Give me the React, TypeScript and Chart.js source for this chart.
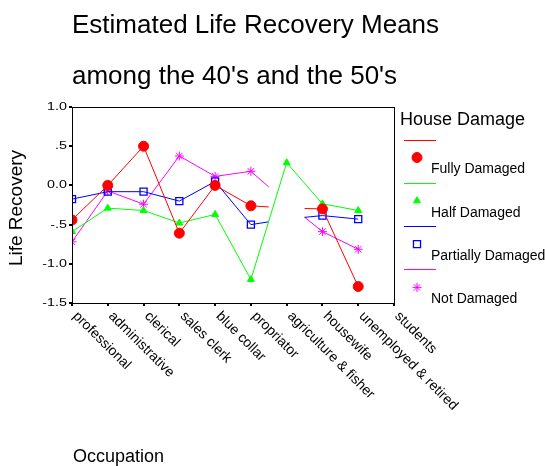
import React, { useEffect, useRef } from 'react';
import { Chart, registerables } from 'chart.js';
import { drawPoint } from 'chart.js/helpers';

Chart.register(...registerables);

const TITLE_LINES = ['Estimated Life Recovery Means', "among the 40's and the 50's"];
const Y_TITLE = 'Life Recovery';
const X_TITLE = 'Occupation';
const LEGEND_TITLE = 'House Damage';

const CATEGORIES = [
  'professional',
  'administrative',
  'clerical',
  'sales clerk',
  'blue collar',
  'propriator',
  'agriculture & fisher',
  'housewife',
  'unemployed & retired',
  'students',
];

const Y_TICK_VALUES = [1.0, 0.5, 0.0, -0.5, -1.0, -1.5];
const Y_TICK_LABELS = ['1.0', '.5', '0.0', '-.5', '-1.0', '-1.5'];

const SERIES_NAMES = ['Fully Damaged', 'Half Damaged', 'Partially Damaged', 'Not Damaged'];
const FULLY = [-0.44, 0.0, 0.5, -0.61, 0.0, -0.26, -0.29, -0.3, -1.29, null];
const HALF = [-0.59, -0.29, -0.32, -0.48, -0.37, -1.2, 0.29, -0.235, -0.32, null];
const PARTIAL = [-0.175, -0.08, -0.08, -0.2, 0.05, -0.5, -0.43, -0.385, -0.43, null];
const NOT_DAMAGED = [-0.72, -0.07, -0.24, 0.375, 0.115, 0.18, -0.22, -0.59, -0.815, null];

// category indices whose mark is not shown (line only drawn half-way toward it)
const FULLY_HIDDEN = [6];
const HALF_HIDDEN: number[] = [];
const PARTIAL_HIDDEN = [6];
const NOT_HIDDEN = [6];

const COLORS = ['#ff0000', '#00ff00', '#0000ff', '#ff00ff'];
const STYLES = ['circle', 'triangle', 'rect', 'star'];
const RADII = [5, 4, 5, 4.5];
const FILLS = ['#ff0000', '#00ff00', 'rgba(0,0,0,0)', '#ff00ff'];

const FONT = '"Liberation Sans", Arial, Helvetica, sans-serif';

type Pt = { x: number; y: number | null; mark: boolean };

function buildPoints(values: (number | null)[], hidden: number[]): Pt[] {
  const pts: Pt[] = [];
  for (let i = 0; i < values.length; i++) {
    const v = values[i];
    if (v === null) {
      pts.push({ x: i, y: null, mark: false });
      continue;
    }
    if (hidden.includes(i)) {
      const prev = values[i - 1];
      const next = values[i + 1];
      if (prev != null) pts.push({ x: i - 0.5, y: (prev + v) / 2, mark: false });
      pts.push({ x: i, y: null, mark: false });
      if (next != null) pts.push({ x: i + 0.5, y: (v + next) / 2, mark: false });
      continue;
    }
    pts.push({ x: i, y: v, mark: true });
  }
  return pts;
}

const decorPlugin = {
  id: 'decor',
  afterDraw(chart: any) {
    const ctx = chart.ctx as CanvasRenderingContext2D;
    const area = chart.chartArea;
    const xs = chart.scales.x;
    const ys = chart.scales.y;
    ctx.save();
    // frame
    ctx.strokeStyle = '#000';
    ctx.lineWidth = 1;
    ctx.strokeRect(
      Math.round(area.left) + 0.5,
      Math.round(area.top) + 0.5,
      Math.round(area.right - area.left),
      Math.round(area.bottom - area.top)
    );

    ctx.fillStyle = '#000';
    // title
    ctx.font = `26px ${FONT}`;
    ctx.textAlign = 'left';
    ctx.textBaseline = 'alphabetic';
    ctx.fillText(TITLE_LINES[0], 72, 33);
    ctx.fillText(TITLE_LINES[1], 72, 84);

    // y tick labels (slightly wide)
    ctx.font = `11px ${FONT}`;
    Y_TICK_VALUES.forEach((v, i) => {
      const y = ys.getPixelForValue(v);
      ctx.save();
      ctx.translate(67, y);
      ctx.scale(1.3, 1);
      ctx.textAlign = 'right';
      ctx.textBaseline = 'middle';
      ctx.fillText(Y_TICK_LABELS[i], 0, 0);
      ctx.restore();
    });

    // y title
    ctx.save();
    ctx.font = `19px ${FONT}`;
    ctx.translate(22, (area.top + area.bottom) / 2 + 3);
    ctx.rotate(-Math.PI / 2);
    ctx.textAlign = 'center';
    ctx.textBaseline = 'alphabetic';
    ctx.fillText(Y_TITLE, 0, 0);
    ctx.restore();

    // x labels rotated
    ctx.font = `14px ${FONT}`;
    CATEGORIES.forEach((c, i) => {
      const x = xs.getPixelForValue(i);
      ctx.save();
      ctx.translate(x + 8, area.bottom + 6);
      ctx.rotate(Math.PI / 4);
      ctx.textAlign = 'left';
      ctx.textBaseline = 'top';
      ctx.fillText(c, 0, 0);
      ctx.restore();
    });

    // x title
    ctx.font = `18px ${FONT}`;
    ctx.textAlign = 'left';
    ctx.textBaseline = 'alphabetic';
    ctx.fillText(X_TITLE, 73, 462);

    // legend
    ctx.font = `18px ${FONT}`;
    ctx.fillText(LEGEND_TITLE, 400, 125);
    ctx.font = `14px ${FONT}`;
    const step = 43.3;
    SERIES_NAMES.forEach((name, k) => {
      const ly = Math.round(139.5 + step * k) + 0.5;
      ctx.strokeStyle = COLORS[k];
      ctx.lineWidth = 1;
      ctx.beginPath();
      ctx.moveTo(404, ly);
      ctx.lineTo(436, ly);
      ctx.stroke();
      ctx.strokeStyle = COLORS[k];
      ctx.fillStyle = FILLS[k];
      ctx.lineWidth = k === 2 ? 1.3 : 1;
      drawPoint(
        ctx,
        {
          pointStyle: STYLES[k],
          radius: RADII[k],
          rotation: 0,
          borderWidth: k === 2 ? 1.3 : 1,
        } as any,
        417,
        157.5 + step * k
      );
      ctx.fillStyle = '#000';
      ctx.fillText(name, 431, 173.3 + step * k);
    });
    ctx.restore();
  },
};

export default function App() {
  const ref = useRef<HTMLCanvasElement | null>(null);
  useEffect(() => {
    if (!ref.current) return;
    const seriesValues = [FULLY, HALF, PARTIAL, NOT_DAMAGED];
    const hiddenSets = [FULLY_HIDDEN, HALF_HIDDEN, PARTIAL_HIDDEN, NOT_HIDDEN];
    const datasets = seriesValues.map((vals, k) => ({
      label: SERIES_NAMES[k],
      data: buildPoints(vals, hiddenSets[k]) as any,
      borderColor: COLORS[k],
      backgroundColor: FILLS[k],
      borderWidth: 1,
      tension: 0,
      spanGaps: false,
      pointStyle: STYLES[k] as any,
      pointRadius: (c: any) => (c.raw && c.raw.mark ? RADII[k] : 0),
      pointBackgroundColor: FILLS[k],
      pointBorderColor: COLORS[k],
      pointBorderWidth: k === 2 ? 1.3 : 1,
      pointHoverRadius: 0,
    }));

    const chart = new Chart(ref.current, {
      type: 'line',
      data: { datasets },
      options: {
        responsive: false,
        animation: false,
        events: [],
        layout: { padding: { left: 0, top: 107, right: 151, bottom: 0 } },
        plugins: {
          legend: { display: false },
          tooltip: { enabled: false },
          title: { display: false },
        },
        scales: {
          x: {
            type: 'linear',
            min: 0,
            max: CATEGORIES.length - 1,
            ticks: { stepSize: 1, display: false },
            grid: { drawOnChartArea: false, drawTicks: true, tickLength: 3, color: '#000', lineWidth: 2 },
            border: { color: '#000', width: 1 },
            afterFit: (s: any) => {
              s.height = 163;
            },
          },
          y: {
            min: -1.5,
            max: 1.0,
            ticks: { stepSize: 0.5, display: false },
            grid: { drawOnChartArea: false, drawTicks: true, tickLength: 3, color: '#000', lineWidth: 2 },
            border: { color: '#000', width: 1 },
            afterFit: (s: any) => {
              s.width = 72;
            },
          },
        },
      },
      plugins: [decorPlugin],
    });
    return () => chart.destroy();
  }, []);

  return (
    <div style={{ position: 'absolute', left: 0, top: 0, width: 545, height: 466, background: '#fff' }}>
      <canvas ref={ref} width={545} height={466} style={{ display: 'block', width: 545, height: 466 }} />
    </div>
  );
}
